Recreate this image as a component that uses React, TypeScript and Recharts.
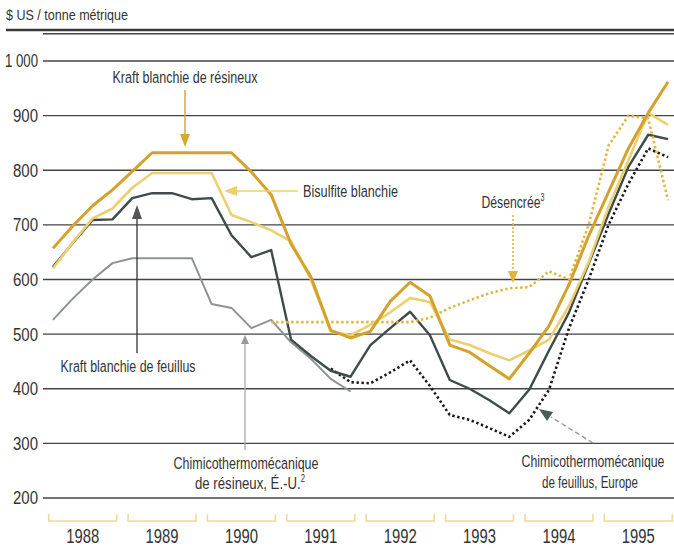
import React, { useLayoutEffect, useRef, useState } from 'react';
import { LineChart, Line, XAxis, YAxis, CartesianGrid } from 'recharts';

const FONT = '"Liberation Sans", Arial, sans-serif';
const TXT = '#333';

const years = [1988, 1989, 1990, 1991, 1992, 1993, 1994, 1995];
const quarterOffsets = [0.125, 0.375, 0.625, 0.875];
const yTicks = [200, 300, 400, 500, 600, 700, 800, 900, 1000];
const yearTicks = [1988.5, 1989.5, 1990.5, 1991.5, 1992.5, 1993.5, 1994.5, 1995.5];

const kraftResineux = [657, 698, 735, 764, 798, 832, 832, 832, 832, 832, 797, 755, 665, 605, 507, 493, 505, 560, 595, 570, 480, 467, 442, 418, 465, 515, 590, 680, 760, 840, 905, 962];
const bisulfite = [620, 668, 712, 730, 768, 795, 795, 795, 795, 718, 705, 690, 670, 600, 505, 498, 517, 540, 566, 559, 490, 480, 465, 452, 470, 490, 551, 632, 733, 818, 905, 883];
const kraftFeuillus = [623, 667, 709, 710, 749, 758, 758, 747, 749, 681, 641, 654, 490, 460, 433, 422, 480, 511, 541, 498, 416, 400, 379, 355, 398, 470, 539, 629, 720, 806, 865, 857];
const ctmResineux = [526, 565, 600, 630, 639, 639, 639, 639, 555, 548, 511, 526, 485, 455, 418, 395, null, null, null, null, null, null, null, null, null, null, null, null, null, null, null, null];
const desencree = [null, null, null, null, null, null, null, null, null, null, null, 522, 522, 522, 522, 522, 522, 522, 522, 530, 548, 562, 575, 584, 586, 615, 600, 700, 845, 900, 895, 745];
const ctmFeuillus = [null, null, null, null, null, null, null, null, null, null, null, null, null, null, 437, 412, 410, 430, 452, 405, 352, 343, 328, 312, 343, 398, 510, 600, 700, 775, 840, 824];

const data = years.flatMap((yr, yi) =>
  quarterOffsets.map((q, qi) => {
    const i = yi * 4 + qi;
    return {
      t: yr + q,
      kraftResineux: kraftResineux[i],
      bisulfite: bisulfite[i],
      kraftFeuillus: kraftFeuillus[i],
      ctmResineux: ctmResineux[i],
      desencree: desencree[i],
      ctmFeuillus: ctmFeuillus[i],
    };
  })
);

// Text condensed horizontally to a target width (the original uses a condensed face)
const SText = (p: { x: number; y: number; w: number; size: number; anchor?: string; children: any; dy?: string }) => {
  const ref = useRef<SVGTextElement>(null);
  const [s, setS] = useState(0.75);
  useLayoutEffect(() => {
    if (ref.current) {
      const n = ref.current.getComputedTextLength();
      if (n > 0) setS(p.w / n);
    }
  }, [p.w, p.size]);
  return (
    <text
      ref={ref}
      transform={`translate(${p.x},${p.y}) scale(${s},1)`}
      x={0}
      y={0}
      dy={p.dy}
      textAnchor={p.anchor || 'start'}
      fontSize={p.size}
      fill={TXT}
      fontFamily={FONT}
    >
      {p.children}
    </text>
  );
};

const YearTick = (props: any) => {
  const { x, y, payload } = props;
  const year = Math.floor(payload.value);
  return (
    <g>
      <path
        d={`M${x - 34},${y + 16} V${y + 23} H${x + 34} V${y + 16}`}
        stroke="#f0da98"
        strokeWidth={1.6}
        fill="none"
      />
      <SText x={x} y={y + 45} w={33} size={20} anchor="middle">{String(year)}</SText>
    </g>
  );
};

const fmtY = (v: number) => (v === 1000 ? '1 000' : String(v));

const YTick = (props: any) => {
  const { x, y, payload } = props;
  const label = fmtY(payload.value);
  const w = label.length === 5 ? 33 : 25;
  return (
    <SText x={x} y={y} dy="0.36em" w={w} size={18} anchor="end">{label}</SText>
  );
};

const Overlay = () => (
  <svg
    width={674}
    height={548}
    style={{ position: 'absolute', left: 0, top: 0, pointerEvents: 'none' }}
  >
    <SText x={6} y={20} w={122} size={15}>$ US / tonne métrique</SText>
    <line x1={6} y1={30} x2={674} y2={30} stroke="#3a3a3a" strokeWidth={2.5} />

    {/* Kraft blanchie de résineux */}
    <SText x={185} y={83} w={145} size={17} anchor="middle">Kraft blanchie de résineux</SText>
    <line x1={185} y1={90} x2={185} y2={135} stroke="#d9a830" strokeWidth={1.5} />
    <polygon points="180,134 190,134 185,147" fill="#d9a830" />

    {/* Bisulfite blanchie */}
    <SText x={303} y={197} w={95} size={17}>Bisulfite blanchie</SText>
    <line x1={298} y1={191} x2={236} y2={191} stroke="#ecd070" strokeWidth={1.5} />
    <polygon points="237,186 237,196 224,191" fill="#ecd070" />

    {/* Kraft blanchie de feuillus */}
    <SText x={128} y={372} w={135} size={17} anchor="middle">Kraft blanchie de feuillus</SText>
    <line x1={137} y1={353} x2={137} y2={218} stroke="#333" strokeWidth={1.3} />
    <polygon points="132,219 142,219 137,205" fill="#555" />

    {/* CTM résineux É.-U. */}
    <SText x={246} y={469} w={145} size={17} anchor="middle">Chimicothermomécanique</SText>
    <SText x={250} y={489} w={110} size={17} anchor="middle">
      de résineux, É.-U.<tspan fontSize={10} dy={-7}>2</tspan>
    </SText>
    <line x1={245} y1={450} x2={245} y2={344} stroke="#aaa" strokeWidth={1.3} />
    <polygon points="241,344 249,344 245,335" fill="#999" />

    {/* Désencrée */}
    <SText x={513} y={208} w={63} size={17} anchor="middle">
      Désencrée<tspan fontSize={10} dy={-7}>3</tspan>
    </SText>
    <line x1={513} y1={215} x2={513} y2={271} stroke="#e3b53a" strokeWidth={1.6} strokeDasharray="2 2" />
    <polygon points="508,271 518,271 513,283" fill="#e3b53a" />

    {/* CTM feuillus Europe */}
    <SText x={593} y={467} w={143} size={17} anchor="middle">Chimicothermomécanique</SText>
    <SText x={590} y={488} w={96} size={17} anchor="middle">de feuillus, Europe</SText>
    <line x1={593} y1={443} x2={551} y2={417} stroke="#999" strokeWidth={1.4} strokeDasharray="5 3" />
    <polygon points="553,412 547,421 539,409" fill="#4d5a5a" />
  </svg>
);

export default function App() {
  return (
    <div style={{ position: 'relative', width: 674, height: 548, background: '#fff' }}>
      <style>{`body{margin:0;background:#fff}`}</style>
      <LineChart
        width={674}
        height={548}
        data={data}
        margin={{ top: 33.7, right: 0, bottom: 0, left: 0 }}
      >
        <CartesianGrid vertical={false} stroke="#444" strokeWidth={1.4} />
        <XAxis
          type="number"
          dataKey="t"
          domain={[1988, 1995.95]}
          ticks={yearTicks}
          axisLine={false}
          tickLine={false}
          tickSize={0}
          tickMargin={0}
          height={50}
          interval={0}
          tick={<YearTick />}
          allowDataOverflow
        />
        <YAxis
          type="number"
          domain={[200, 1050]}
          ticks={yTicks}
          axisLine={false}
          tickLine={false}
          tickSize={0}
          tickMargin={5}
          width={43}
          interval={0}
          tick={<YTick />}
          allowDataOverflow
        />
        <Line type="linear" dataKey="ctmResineux" stroke="#8e9292" strokeWidth={2} dot={false} activeDot={false} isAnimationActive={false} strokeLinejoin="round" />
        <Line type="linear" dataKey="ctmFeuillus" stroke="#1a1a1a" strokeWidth={2.6} strokeDasharray="2.4 2.6" dot={false} activeDot={false} isAnimationActive={false} />
        <Line type="linear" dataKey="kraftFeuillus" stroke="#3f4b4b" strokeWidth={2.4} dot={false} activeDot={false} isAnimationActive={false} strokeLinejoin="round" />
        <Line type="linear" dataKey="desencree" stroke="#e3b53a" strokeWidth={2.6} strokeDasharray="2.4 2.6" dot={false} activeDot={false} isAnimationActive={false} />
        <Line type="linear" dataKey="bisulfite" stroke="#ecd070" strokeWidth={2.6} dot={false} activeDot={false} isAnimationActive={false} strokeLinejoin="round" />
        <Line type="linear" dataKey="kraftResineux" stroke="#d4a22a" strokeWidth={3} dot={false} activeDot={false} isAnimationActive={false} strokeLinejoin="round" />
      </LineChart>
      <Overlay />
    </div>
  );
}
